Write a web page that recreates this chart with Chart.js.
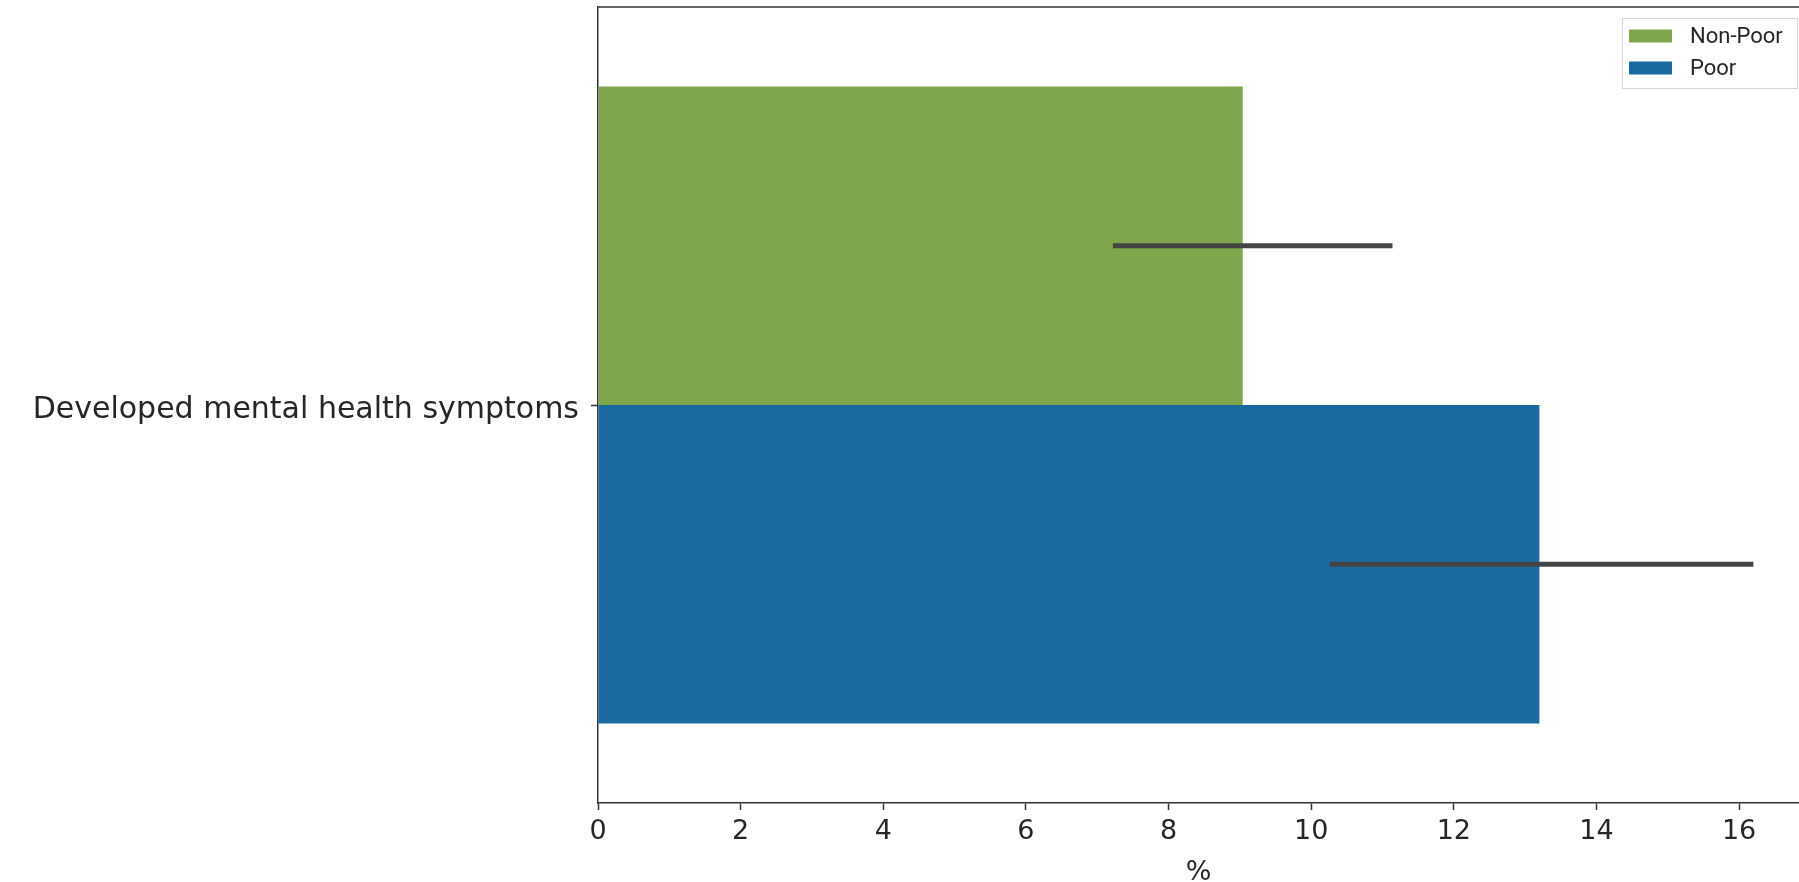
<!DOCTYPE html>
<html>
<head>
<meta charset="utf-8">
<script src="https://cdn.jsdelivr.net/npm/chart.js@4/dist/chart.umd.min.js"></script>
<style>
  html, body { margin: 0; padding: 0; background: #fff; }
  #wrap { width: 1799px; height: 882px; }
</style>
</head>
<body>
<div id="wrap"><canvas id="chart" width="1799" height="882"></canvas></div>
<script>
// data
const categories = ["Developed mental health symptoms"];
const seriesNames = ["Non-Poor", "Poor"];
const nonPoorValues = [9.04];
const poorValues = [13.2];
const nonPoorErrLow = [7.22];
const nonPoorErrHigh = [11.14];
const poorErrLow = [10.26];
const poorErrHigh = [16.2];
const xTicks = [0, 2, 4, 6, 8, 10, 12, 14, 16];

const green = "#7fa64a";
const blue = "#1a6aa1";

// error bars drawn through the chart's own scales
const errorBars = {
  id: "errorBars",
  afterDatasetsDraw(chart) {
    const ctx = chart.ctx;
    const x = chart.scales.x;
    const lows = [nonPoorErrLow, poorErrLow];
    const highs = [nonPoorErrHigh, poorErrHigh];
    ctx.save();
    ctx.strokeStyle = "#444444";
    ctx.lineWidth = 5;
    ctx.lineCap = "butt";
    chart.data.datasets.forEach((ds, i) => {
      const meta = chart.getDatasetMeta(i);
      meta.data.forEach((bar, j) => {
        ctx.beginPath();
        ctx.moveTo(x.getPixelForValue(lows[i][j]), bar.y);
        ctx.lineTo(x.getPixelForValue(highs[i][j]), bar.y);
        ctx.stroke();
      });
    });
    ctx.restore();
  },
};

// top spine + matplotlib-like legend box
const frame = {
  id: "frame",
  afterDraw(chart) {
    const ctx = chart.ctx;
    const a = chart.chartArea;
    ctx.save();
    ctx.strokeStyle = "#333333";
    ctx.lineWidth = 1.5;
    ctx.beginPath();
    ctx.moveTo(a.left, a.top);
    ctx.lineTo(chart.width, a.top);
    ctx.stroke();

    // legend
    const bx = 1622, by = 18, bw = 175, bh = 70;
    ctx.fillStyle = "rgba(255,255,255,0.8)";
    ctx.strokeStyle = "#d6d6d6";
    ctx.lineWidth = 1;
    ctx.fillRect(bx, by, bw, bh);
    ctx.strokeRect(bx + 0.5, by + 0.5, bw, bh);
    ctx.font = "22px Roboto";
    ctx.textBaseline = "middle";
    chart.data.datasets.forEach((ds, i) => {
      const cy = 36 + i * 32;
      ctx.fillStyle = ds.backgroundColor;
      ctx.fillRect(1629, cy - 6.5, 43, 13);
      ctx.fillStyle = "#262626";
      ctx.fillText(ds.label, 1690, cy + 1);
    });
    ctx.restore();
  },
};

new Chart(document.getElementById("chart"), {
  type: "bar",
  data: {
    labels: categories,
    datasets: [
      {
        label: seriesNames[0],
        data: nonPoorValues,
        backgroundColor: green,
        categoryPercentage: 0.8,
        barPercentage: 1.0,
      },
      {
        label: seriesNames[1],
        data: poorValues,
        backgroundColor: blue,
        categoryPercentage: 0.8,
        barPercentage: 1.0,
      },
    ],
  },
  options: {
    indexAxis: "y",
    responsive: false,
    animation: false,
    layout: { padding: { top: 7, right: 0, left: 0, bottom: 0 } },
    plugins: {
      legend: { display: false },
      tooltip: { enabled: false },
    },
    scales: {
      x: {
        type: "linear",
        min: 0,
        max: 16.84,
        afterFit: (axis) => {
          axis.height = 79;
          axis.paddingRight = 0;
        },
        afterBuildTicks: (axis) => {
          axis.ticks = xTicks.map((v) => ({ value: v }));
        },
        ticks: {
          includeBounds: false,
          color: "#262626",
          font: { family: "DejaVu Sans", size: 27 },
          padding: 6,
          maxRotation: 0,
        },
        grid: {
          display: true,
          drawOnChartArea: false,
          drawTicks: true,
          tickLength: 7,
          tickColor: "#333333",
          tickWidth: 1.5,
        },
        border: { display: true, color: "#333333", width: 1.5 },
        title: {
          display: true,
          text: "%",
          color: "#262626",
          font: { family: "DejaVu Sans", size: 27, lineHeight: 0.7 },
          padding: 0,
        },
      },
      y: {
        afterFit: (axis) => {
          axis.width = 598;
          axis.paddingTop = 0;
          axis.paddingBottom = 0;
        },
        ticks: {
          color: "#262626",
          font: { family: "DejaVu Sans", size: 30 },
          padding: 12,
          labelOffset: 5,
        },
        grid: {
          display: true,
          offset: false,
          drawOnChartArea: false,
          drawTicks: true,
          tickLength: 7,
          tickColor: "#333333",
          tickWidth: 1.5,
        },
        border: { display: true, color: "#333333", width: 1.5 },
      },
    },
  },
  plugins: [errorBars, frame],
});
</script>
</body>
</html>
